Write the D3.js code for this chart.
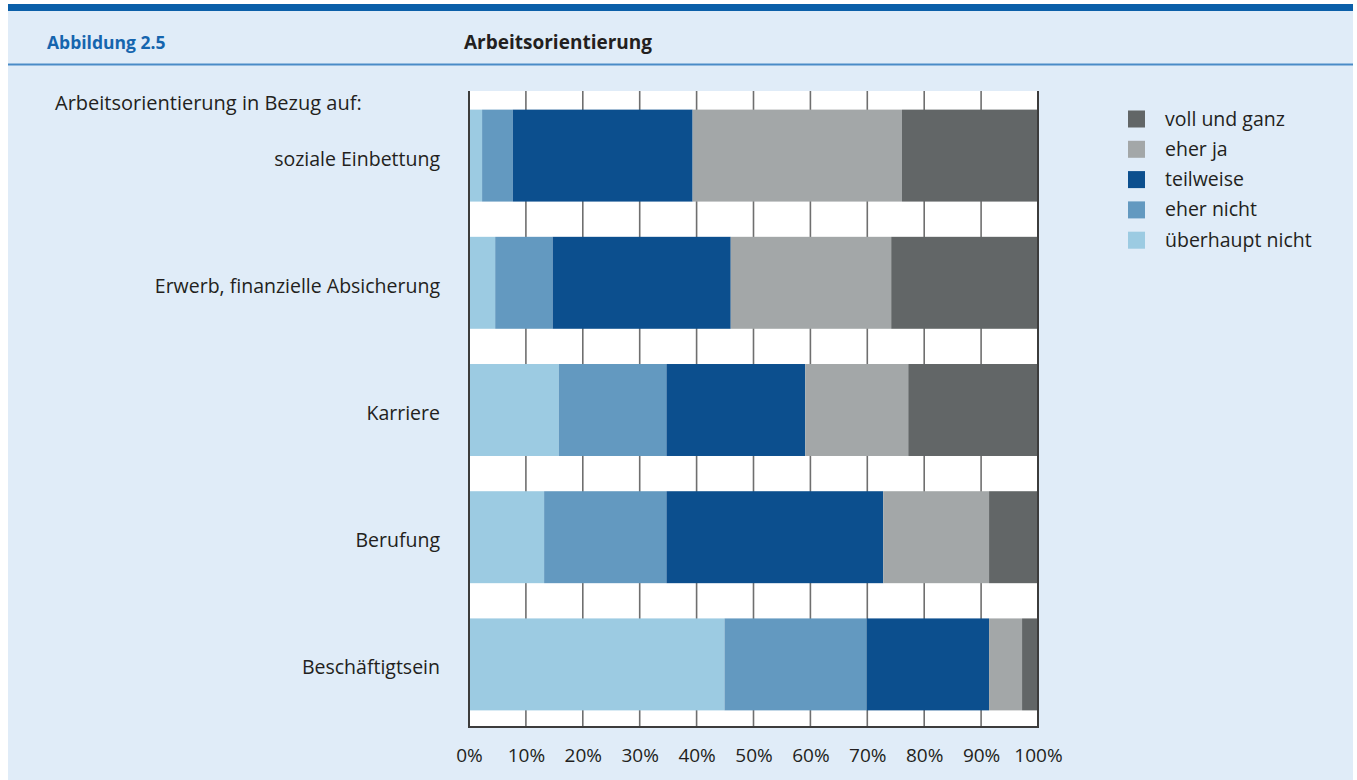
<!DOCTYPE html>
<meta charset="utf-8">
<style>
  body { margin: 0; background: #fff; }
  text { font-family: "Open Sans", "Noto Sans", sans-serif; fill: #231f20; }
</style>
<script src="https://d3js.org/d3.v7.min.js"></script>
<script>
// chart values (percent)
var categories = ["soziale Einbettung", "Erwerb, finanzielle Absicherung", "Karriere", "Berufung", "Beschäftigtsein"];
var seriesNames = ["überhaupt nicht", "eher nicht", "teilweise", "eher ja", "voll und ganz"];
var ueberhauptNicht = [2.3, 4.6, 15.8, 13.2, 44.9];
var eherNicht = [5.4, 10.1, 18.9, 21.5, 25.0];
var teilweise = [31.6, 31.3, 24.4, 38.1, 21.5];
var eherJa = [36.8, 28.2, 18.1, 18.6, 5.8];
var vollUndGanz = [23.9, 25.8, 22.8, 8.6, 2.8];
var xTicks = [0, 10, 20, 30, 40, 50, 60, 70, 80, 90, 100];
var colors = ["#9ccbe2", "#6399c0", "#0c4f8e", "#a3a7a8", "#626667"];

window.onload = function() {

  var W = 1357, H = 780;
  var svg = d3.select("body").append("svg")
      .attr("width", W)
      .attr("height", H);

  // panel + header
  svg.append("rect").attr("x", 8).attr("y", 4).attr("width", 1345).attr("height", 776)
     .style("fill", "#e0ecf8");
  svg.append("rect").attr("x", 8).attr("y", 4).attr("width", 1345).attr("height", 7)
     .style("fill", "#0b5fa9");
  svg.append("line").attr("x1", 8).attr("x2", 1353).attr("y1", 64.5).attr("y2", 64.5)
     .style("stroke", "#4a8bc7").style("stroke-width", 2);

  svg.append("text").text("Abbildung 2.5")
     .attr("x", 47).attr("y", 49)
     .style("font-weight", "bold").style("font-size", "17.5px").style("fill", "#1565ae");
  svg.append("text").text("Arbeitsorientierung")
     .attr("x", 464).attr("y", 49)
     .style("font-weight", "bold").style("font-size", "19px");
  svg.append("text").text("Arbeitsorientierung in Bezug auf:")
     .attr("x", 55).attr("y", 110)
     .style("font-size", "20px");

  // scales
  var x = d3.scaleLinear().domain([0, 100]).range([469, 1038]);
  var y = d3.scaleBand().domain(categories).range([92, 728])
      .paddingInner(0.277).paddingOuter(0.1385);

  var table = categories.map(function(c, i) {
    return {
      cat: c,
      "überhaupt nicht": ueberhauptNicht[i],
      "eher nicht": eherNicht[i],
      "teilweise": teilweise[i],
      "eher ja": eherJa[i],
      "voll und ganz": vollUndGanz[i]
    };
  });
  var stacked = d3.stack().keys(seriesNames)(table);

  // plot background
  svg.append("rect")
     .attr("x", x(0)).attr("y", 91)
     .attr("width", x(100) - x(0)).attr("height", 727 - 91)
     .style("fill", "#fff");

  // grid lines
  svg.append("g").selectAll("line")
     .data(xTicks.slice(1, -1))
     .enter().append("line")
       .attr("x1", function(d) { return x(d); })
       .attr("x2", function(d) { return x(d); })
       .attr("y1", 91).attr("y2", 727)
       .style("stroke", "#6f6f6f")
       .style("stroke-width", 1.6);

  // bars
  svg.append("g").selectAll("g")
     .data(stacked)
     .enter().append("g")
       .style("fill", function(d, i) { return colors[i]; })
     .selectAll("rect")
     .data(function(d) { return d; })
     .enter().append("rect")
       .attr("x", function(d) { return x(d[0]); })
       .attr("width", function(d) { return x(d[1]) - x(d[0]); })
       .attr("y", function(d) { return y(d.data.cat); })
       .attr("height", y.bandwidth());

  // frame: left, right, bottom
  var frame = svg.append("g").style("stroke", "#3c3c3c").style("stroke-width", 2);
  frame.append("line").attr("x1", x(0)).attr("x2", x(0)).attr("y1", 91).attr("y2", 728);
  frame.append("line").attr("x1", x(100)).attr("x2", x(100)).attr("y1", 91).attr("y2", 728);
  frame.append("line").attr("x1", x(0) - 1).attr("x2", x(100) + 1).attr("y1", 727).attr("y2", 727);

  // category labels
  svg.append("g").selectAll("text")
     .data(categories)
     .enter().append("text")
       .text(function(d) { return d; })
       .attr("x", 440)
       .attr("y", function(d) { return y(d) + y.bandwidth() / 2 + 10; })
       .attr("text-anchor", "end")
       .style("font-size", "19.5px");

  // x axis labels
  var xAxis = d3.axisBottom(x).tickValues(xTicks).tickSize(0)
      .tickFormat(function(d) { return d + "%"; });
  var ax = svg.append("g").attr("transform", "translate(0,745)").call(xAxis);
  ax.select(".domain").remove();
  ax.selectAll("text")
    .style("font-size", "19px")
    .style("font-family", "\"Open Sans\", sans-serif")
    .style("fill", "#231f20");

  // legend
  var legendOrder = seriesNames.slice().reverse();
  var legend = svg.append("g").selectAll("g")
     .data(legendOrder)
     .enter().append("g")
       .attr("transform", function(d, i) { return "translate(1128," + (110.5 + i * 30.3) + ")"; });
  legend.append("rect")
     .attr("width", 17).attr("height", 17)
     .style("fill", function(d) { return colors[seriesNames.indexOf(d)]; });
  legend.append("text")
     .text(function(d) { return d; })
     .attr("x", 37).attr("y", 15)
     .style("font-size", "19.5px");
};
</script>
